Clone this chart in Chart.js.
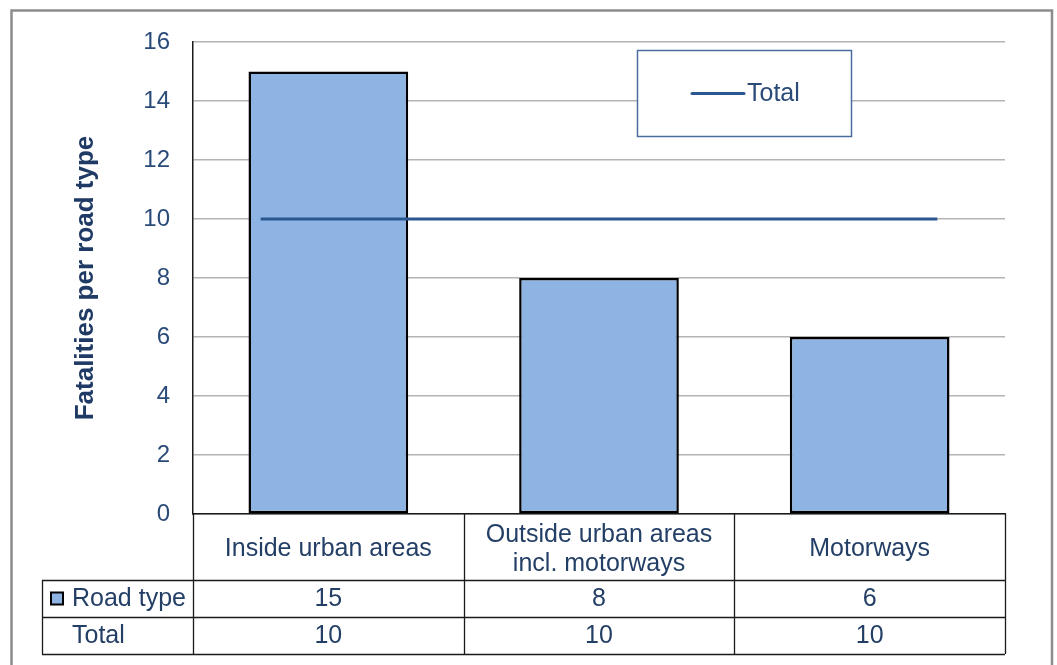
<!DOCTYPE html>
<html>
<head>
<meta charset="utf-8">
<script src="https://cdn.jsdelivr.net/npm/chart.js@4.4.0/dist/chart.umd.min.js"></script>
<style>
  html, body { margin: 0; padding: 0; background: #ffffff; }
  #wrap { width: 1057px; height: 665px; position: relative; }
  canvas { display: block; }
</style>
</head>
<body>
<div id="wrap"><canvas id="c" width="1057" height="665"></canvas></div>
<script>
// ---- data ----
const categories = [
  ['Inside urban areas'],
  ['Outside urban areas', 'incl. motorways'],
  ['Motorways']
];
const roadTypeLabel = 'Road type';
const roadTypeValues = [15, 8, 6];
const totalLabel = 'Total';
const totalValues = [10, 10, 10];
const yTicks = { min: 0, max: 16, step: 2 };
const yTitle = 'Fatalities per road type';

// ---- styles ----
const FONT = "'Liberation Sans', Arial, sans-serif";
const BAR_FILL = '#8EB4E3';
const LINE_COL = '#2B5690';
const TXT = '#2A4A78';
const TABLE_TXT = '#243F66';
const GRID = '#B3B3B3';

const tablePlugin = {
  id: 'tablePlugin',
  beforeDraw(chart) {
    const ctx = chart.ctx;
    ctx.save();
    ctx.fillStyle = '#ffffff';
    ctx.fillRect(0, 0, chart.width, chart.height);
    ctx.strokeStyle = '#8C8C8C';
    ctx.lineWidth = 2.5;
    ctx.strokeRect(11.5, 10.5, 1040.5, 700);
    ctx.restore();
  },
  afterDraw(chart) {
    const ctx = chart.ctx;
    const xs = chart.scales.x;
    const area = chart.chartArea;
    const n = categories.length;
    const cw = (area.right - area.left) / n;
    const tableLeft = 42;
    const row0Top = area.bottom;
    const row1Top = row0Top + 66;
    const row2Top = row1Top + 37;
    const tableBottom = row2Top + 37;

    ctx.save();
    ctx.strokeStyle = '#1A1A1A';
    ctx.lineWidth = 1.3;
    ctx.beginPath();
    for (let i = 0; i <= n; i++) {
      const x = Math.round(area.left + i * cw) + 0.5;
      ctx.moveTo(x, row0Top);
      ctx.lineTo(x, tableBottom);
    }
    ctx.moveTo(tableLeft + 0.5, row1Top);
    ctx.lineTo(tableLeft + 0.5, tableBottom);
    [row1Top, row2Top, tableBottom].forEach(y => {
      ctx.moveTo(tableLeft, y + 0.5);
      ctx.lineTo(area.right, y + 0.5);
    });
    ctx.stroke();

    ctx.font = '25px ' + FONT;
    ctx.fillStyle = TABLE_TXT;
    ctx.textAlign = 'center';
    ctx.textBaseline = 'middle';
    const rows = [
      { vals: roadTypeValues, y: (row1Top + row2Top) / 2 },
      { vals: totalValues, y: (row2Top + tableBottom) / 2 }
    ];
    rows.forEach(r => {
      r.vals.forEach((v, i) => {
        ctx.fillText(String(v), xs.getPixelForValue(i), r.y + 1);
      });
    });

    ctx.textAlign = 'left';
    ctx.fillText(roadTypeLabel, 72, rows[0].y + 1);
    ctx.fillText(totalLabel, 72, rows[1].y + 1);
    ctx.fillStyle = BAR_FILL;
    ctx.fillRect(51, rows[0].y - 6, 12, 12);
    ctx.strokeStyle = '#000';
    ctx.lineWidth = 2;
    ctx.strokeRect(51, rows[0].y - 6, 12, 12);

    const lx = 637.5, ly = 50.5, lw = 214, lh = 86;
    ctx.fillStyle = '#ffffff';
    ctx.fillRect(lx, ly, lw, lh);
    ctx.strokeStyle = '#4A6C9E';
    ctx.lineWidth = 1.5;
    ctx.strokeRect(lx, ly, lw, lh);
    ctx.strokeStyle = LINE_COL;
    ctx.lineWidth = 3;
    ctx.lineCap = 'round';
    ctx.beginPath();
    ctx.moveTo(692, ly + lh / 2);
    ctx.lineTo(744, ly + lh / 2);
    ctx.stroke();
    ctx.fillStyle = TXT;
    ctx.font = '25px ' + FONT;
    ctx.textAlign = 'left';
    ctx.textBaseline = 'middle';
    ctx.fillText(chart.data.datasets[1].label, 747, ly + lh / 2 + 1);
    ctx.restore();
  }
};

new Chart(document.getElementById('c'), {
  type: 'bar',
  data: {
    labels: categories,
    datasets: [
      {
        type: 'bar',
        label: roadTypeLabel,
        data: roadTypeValues,
        backgroundColor: BAR_FILL,
        borderColor: '#000000',
        borderWidth: 2.5,
        borderSkipped: false,
        grouped: false,
        barPercentage: 0.59,
        categoryPercentage: 1,
        order: 2
      },
      {
        type: 'line',
        label: totalLabel,
        data: totalValues.map((v, i) => ({ x: i, y: v })),
        xAxisID: 'x2',
        borderColor: LINE_COL,
        borderWidth: 3,
        pointRadius: 0,
        fill: false,
        order: 1
      }
    ]
  },
  options: {
    responsive: false,
    animation: false,
    devicePixelRatio: 1,
    layout: { padding: { left: 0, top: 42, right: 52, bottom: 0 } },
    plugins: {
      legend: { display: false },
      tooltip: { enabled: false },
      title: { display: false }
    },
    scales: {
      x: {
        type: 'category',
        offset: true,
        grid: { display: false, drawTicks: false },
        border: { display: true, color: '#1A1A1A', width: 1.5 },
        ticks: {
          font: { family: FONT, size: 25, lineHeight: 1.16 },
          color: TABLE_TXT,
          crossAlign: 'center',
          padding: 21,
          maxRotation: 0,
          autoSkip: false
        },
        afterFit(scale) { scale.height = 151; }
      },
      x2: {
        type: 'linear',
        display: false,
        offset: false,
        grid: { offset: false },
        min: -0.2,
        max: 2.2
      },
      y: {
        min: yTicks.min,
        max: yTicks.max,
        ticks: {
          stepSize: yTicks.step,
          font: { family: FONT, size: 24 },
          color: TXT,
          padding: 23
        },
        grid: { color: GRID, lineWidth: 1.5, drawTicks: false },
        border: { display: true, color: '#1A1A1A', width: 1.5 },
        title: {
          display: true,
          text: yTitle,
          font: { family: FONT, size: 26, weight: 'bold' },
          color: '#1F3A64',
          padding: { top: 70, bottom: 0 }
        },
        afterFit(scale) { scale.width = 193; }
      }
    }
  },
  plugins: [tablePlugin]
});
</script>
</body>
</html>
